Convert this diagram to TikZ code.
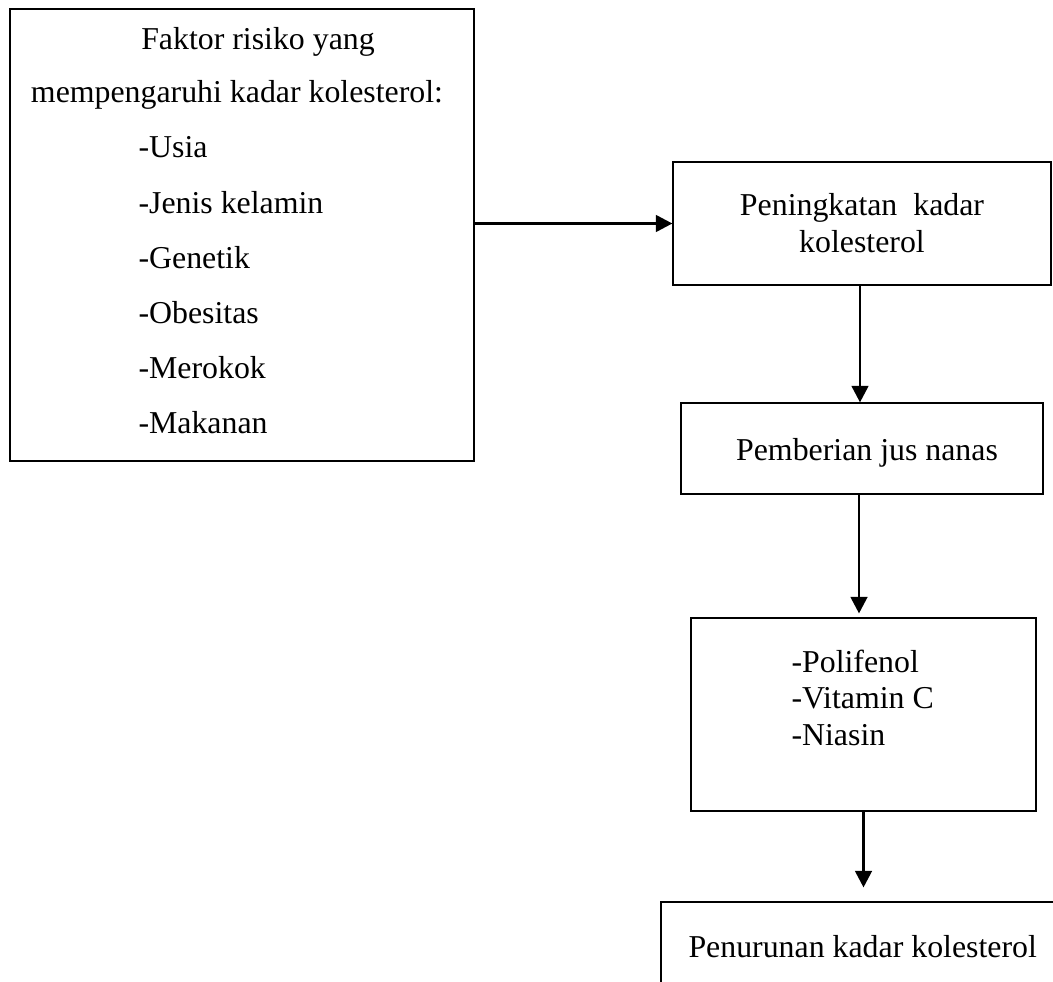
\documentclass[tikz,border=0pt]{standalone}
\usepackage{fontspec}
\setmainfont{Liberation Serif}
\usetikzlibrary{arrows.meta}
\begin{document}
\begin{tikzpicture}[x=.38pt,y=-.38pt,
	every node/.style={font=\fontsize{12.1}{14}\selectfont,inner sep=0pt},
	kotak/.style={draw,line width=.45pt},
	txt/.style={anchor=base},
	txtl/.style={anchor=base west},
	panah/.style={-{Triangle[length=6.3pt,width=6.3pt]},line width=1.1pt}]
	\useasboundingbox(0,0)rectangle(1053,982);
	\clip(0,0)rectangle(1053,982);
	%kotak
	\node[kotak,minimum width=464*.38pt,minimum height=452*.38pt](risiko)at(242,235){};
	\node[kotak,minimum width=378*.38pt,minimum height=123*.38pt](naik)at(862,223.5){};
	\node[kotak,minimum width=362*.38pt,minimum height=91*.38pt](jus)at(862,448.5){};
	\node[kotak,minimum width=345*.38pt,minimum height=193*.38pt](zat)at(863.5,714.5){};
	\node[kotak,minimum width=460*.38pt,minimum height=140*.38pt](turun)at(891,972){};
	%teks
	\node[txt](t1)at(258,50){Faktor risiko yang};
	\node[txt](t2)at(237,103){mempengaruhi kadar kolesterol:};
	\node[txtl](f1)at(138,158){-Usia};
	\node[txtl](f2)at(138,213){-Jenis kelamin};
	\node[txtl](f3)at(138,268){-Genetik};
	\node[txtl](f4)at(138,323){-Obesitas};
	\node[txtl](f5)at(138,378){-Merokok};
	\node[txtl](f6)at(138,433){-Makanan};
	\node[txt](n1)at(862,215){Peningkatan\ \ kadar};
	\node[txt](n2)at(862,252){kolesterol};
	\node[txt](j1)at(867,460){Pemberian jus nanas};
	\node[txtl](z1)at(791,672){-Polifenol};
	\node[txtl](z2)at(791,708){-Vitamin C};
	\node[txtl](z3)at(791,745){-Niasin};
	\node[txtl](u1)at(688,957){Penurunan kadar kolesterol};
	%panah
	\draw[panah](risiko.east|-naik.west)--(naik.west);
	\draw[panah]([xshift=-2*.38pt]naik.south)--([xshift=-2*.38pt]naik.south|-jus.north);
	\draw[panah,shorten >=1.5pt]([xshift=-3*.38pt]jus.south)--([xshift=-3*.38pt]jus.south|-zat.north);
	\draw[panah,shorten >=5.3pt](zat.south)--(zat.south|-turun.north);
\end{tikzpicture}
\end{document}
